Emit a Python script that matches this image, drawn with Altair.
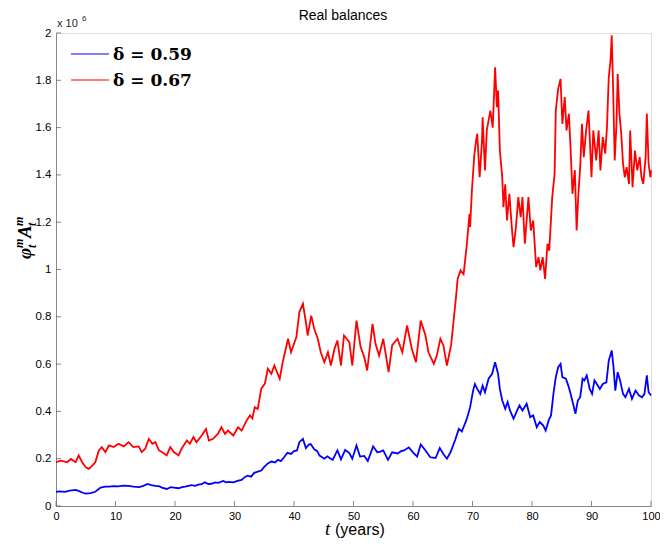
import altair as alt
import pandas as pd

# ---- data (values in units of 10^6) ----
t_blue = [0, 0.6, 1.5, 2.3, 3.3, 3.8, 4.5, 5.0, 5.8, 6.6, 7.5, 8.3, 8.9, 9.7, 10.5, 11.3, 12.2, 13.0, 13.9, 14.6,
          15.4, 16.0, 16.7, 17.4, 17.8, 18.6, 19.3, 19.8, 20.6, 21.2, 21.7, 22.8, 23.4, 23.9, 24.5, 25.0, 25.6, 26.1,
          26.8, 27.3, 28.1, 28.6, 29.0, 29.8, 30.5, 31.2, 31.7, 32.2, 32.8, 33.3, 33.9, 34.5, 35.0, 35.6, 36.2, 36.8,
          37.3, 37.8, 38.3, 38.9, 39.5, 40.0, 40.5, 40.9, 41.5, 42.0, 42.5, 42.8, 43.4, 43.9, 44.3, 45.1, 45.6, 46.0,
          46.5, 47.0, 47.3, 47.9, 48.6, 49.3, 49.8, 50.5, 51.1, 51.8, 52.4, 53.3, 54.0, 54.5, 55.0, 55.8, 56.5, 57.4,
          58.0, 58.5, 59.3, 60.1, 60.7, 61.3, 62.1, 62.9, 63.8, 64.5, 65.1, 65.7, 66.3, 67.1, 67.7, 68.2, 69.0, 69.6,
          70.1, 70.4, 70.8, 71.3, 71.7, 72.1, 72.7, 73.3, 73.8, 74.3, 74.6, 75.0, 75.5, 75.9, 76.3, 76.9, 77.5, 77.9,
          78.4, 79.1, 79.7, 80.2, 80.8, 81.3, 81.9, 82.3, 82.8, 83.2, 83.6, 84.0, 84.4, 84.8, 85.1, 85.7, 86.1, 86.5,
          86.9, 87.3, 87.7, 88.1, 88.5, 88.8, 89.2, 89.7, 90.1, 90.5, 90.9, 91.4, 91.9, 92.5, 92.9, 93.4, 93.7, 94.0,
          94.4, 94.8, 95.3, 95.7, 96.3, 96.8, 97.4, 98.0, 98.5, 98.9, 99.3, 99.6, 100]
v_blue = [0.06, 0.062, 0.06, 0.065, 0.068, 0.064, 0.056, 0.052, 0.054, 0.06, 0.078, 0.082, 0.082, 0.084, 0.083, 0.086,
          0.085, 0.082, 0.08, 0.084, 0.093, 0.088, 0.085, 0.083, 0.078, 0.072, 0.08, 0.078, 0.075, 0.08, 0.082, 0.088,
          0.085, 0.09, 0.092, 0.1, 0.093, 0.094, 0.1, 0.098, 0.106, 0.1, 0.102, 0.1, 0.106, 0.11, 0.122, 0.128, 0.124,
          0.14, 0.145, 0.15, 0.165, 0.18, 0.188, 0.184, 0.195, 0.19, 0.205, 0.225, 0.22, 0.232, 0.235, 0.27, 0.284,
          0.245, 0.26, 0.262, 0.24, 0.232, 0.213, 0.2, 0.21, 0.203, 0.195, 0.22, 0.235, 0.197, 0.237, 0.224, 0.2,
          0.256, 0.209, 0.212, 0.19, 0.252, 0.227, 0.23, 0.235, 0.195, 0.227, 0.222, 0.232, 0.235, 0.248, 0.224,
          0.209, 0.26, 0.235, 0.206, 0.203, 0.245, 0.22, 0.2, 0.227, 0.28, 0.326, 0.315, 0.365, 0.418, 0.488, 0.516,
          0.495, 0.474, 0.509, 0.481, 0.538, 0.559, 0.608, 0.559, 0.495, 0.446, 0.411, 0.44, 0.404, 0.369, 0.404,
          0.425, 0.404, 0.432, 0.376, 0.383, 0.333, 0.355, 0.34, 0.319, 0.362, 0.383, 0.474, 0.545, 0.587, 0.601,
          0.545, 0.538, 0.509, 0.474, 0.432, 0.39, 0.446, 0.46, 0.538, 0.531, 0.552, 0.495, 0.474, 0.531, 0.516,
          0.495, 0.516, 0.523, 0.615, 0.658, 0.587, 0.488, 0.566, 0.531, 0.474, 0.46, 0.495, 0.453, 0.488, 0.467,
          0.46, 0.474, 0.552, 0.481, 0.467]

t_red = [0, 0.8, 1.9, 2.5, 3.3, 3.8, 4.4, 5.0, 5.5, 6.1, 6.6, 7.2, 7.7, 8.3, 8.9, 9.7, 10.5, 11.4, 12.2, 13.0, 13.9,
         14.4, 15.0, 15.6, 16.2, 16.7, 17.3, 17.8, 18.6, 19.2, 19.8, 20.6, 21.1, 22.0, 22.5, 23.1, 23.6, 24.5, 25.2,
         25.7, 26.4, 27.2, 27.8, 28.4, 28.9, 29.8, 30.6, 31.2, 32.0, 32.6, 33.0, 33.4, 33.9, 34.5, 35.1, 35.6, 36.2,
         36.7, 37.6, 38.1, 39.0, 39.5, 40.4, 40.9, 41.5, 42.0, 42.3, 42.9, 43.4, 44.0, 44.5, 45.1, 45.7, 46.2, 46.8,
         47.3, 47.9, 48.4, 49.3, 49.8, 50.5, 51.2, 51.8, 52.3, 53.2, 53.7, 54.3, 55.0, 55.9, 56.5, 57.4, 58.2, 59.0,
         59.8, 60.5, 61.3, 62.1, 62.6, 63.5, 64.0, 64.6, 65.1, 65.7, 66.4, 66.8, 67.2, 67.5, 68.0, 68.5, 69.0, 69.5,
         69.6, 69.9, 70.3, 70.6, 70.8, 71.2, 71.6, 71.7, 72.1, 72.4, 73.0, 73.4, 73.8, 74.1, 74.3, 74.6, 75.0, 75.2,
         75.5, 75.8, 76.2, 76.6, 76.9, 77.3, 77.7, 78.1, 78.4, 78.8, 79.4, 79.8, 80.2, 80.7, 81.1, 81.4, 81.8, 82.2,
         82.6, 82.9, 83.4, 83.8, 84.0, 84.4, 84.8, 85.1, 85.5, 85.8, 86.2, 86.5, 86.8, 87.2, 87.5, 87.8, 88.1, 88.4,
         88.7, 89.1, 89.5, 90.0, 90.3, 90.8, 91.2, 91.5, 91.9, 92.3, 92.6, 92.9, 93.2, 93.4, 93.6, 93.9, 94.2, 94.4,
         94.7, 95.0, 95.3, 95.6, 95.9, 96.3, 96.5, 96.9, 97.3, 97.7, 98.1, 98.4, 98.7, 99.1, 99.3, 99.6, 99.9, 100]
v_red = [0.185, 0.192, 0.185, 0.199, 0.185, 0.214, 0.185, 0.164, 0.157, 0.171, 0.185, 0.235, 0.249, 0.228, 0.256,
         0.249, 0.263, 0.252, 0.27, 0.249, 0.252, 0.228, 0.242, 0.284, 0.263, 0.27, 0.235, 0.228, 0.214, 0.249, 0.228,
         0.214, 0.242, 0.277, 0.263, 0.291, 0.27, 0.298, 0.326, 0.277, 0.284, 0.305, 0.333, 0.305, 0.319, 0.298,
         0.333, 0.319, 0.36, 0.383, 0.37, 0.418, 0.41, 0.496, 0.517, 0.58, 0.559, 0.594, 0.538, 0.608, 0.707, 0.65,
         0.714, 0.82, 0.855, 0.777, 0.721, 0.805, 0.749, 0.707, 0.65, 0.608, 0.65, 0.594, 0.665, 0.7, 0.594, 0.721,
         0.693, 0.594, 0.784, 0.672, 0.63, 0.573, 0.77, 0.686, 0.636, 0.707, 0.566, 0.68, 0.707, 0.65, 0.763, 0.665,
         0.608, 0.784, 0.721, 0.65, 0.601, 0.636, 0.707, 0.68, 0.594, 0.68, 0.777, 0.876, 0.96, 0.996, 0.98, 1.094,
         1.235, 1.18, 1.334, 1.482, 1.545, 1.574, 1.39, 1.545, 1.644, 1.419, 1.588, 1.672, 1.6, 1.855, 1.686, 1.757,
         1.503, 1.39, 1.263, 1.36, 1.207, 1.32, 1.179, 1.094, 1.179, 1.306, 1.221, 1.306, 1.109, 1.306, 1.165, 1.207,
         1.01, 1.052, 0.996, 1.052, 0.96, 1.109, 1.08, 1.306, 1.405, 1.672, 1.764, 1.806, 1.616, 1.729, 1.588, 1.658,
         1.503, 1.32, 1.42, 1.165, 1.32, 1.433, 1.616, 1.475, 1.588, 1.672, 1.39, 1.588, 1.461, 1.588, 1.419, 1.56,
         1.49, 1.602, 1.813, 1.884, 1.99, 1.8, 1.461, 1.616, 1.827, 1.658, 1.574, 1.447, 1.39, 1.433, 1.362, 1.588,
         1.348, 1.503, 1.419, 1.475, 1.39, 1.362, 1.475, 1.658, 1.447, 1.39, 1.42]

series_labels = ["δ = 0.59", "δ = 0.67"]
series_colors = ["#0000ff", "#ff0000"]
x_ticks = [0, 10, 20, 30, 40, 50, 60, 70, 80, 90, 100]
y_ticks = [0, 0.2, 0.4, 0.6, 0.8, 1.0, 1.2, 1.4, 1.6, 1.8, 2.0]
title_text = "Real balances"
exp_text = ["x 10", "6"]

# ---- build tables ----
df = pd.concat([
    pd.DataFrame({"t": t_blue, "v": v_blue, "series": series_labels[0]}),
    pd.DataFrame({"t": t_red, "v": v_red, "series": series_labels[1]}),
], ignore_index=True)

W, H = 595, 473
AXIS_COL = "#555555"
LAB_COL = "#262626"
SANS = "Liberation Sans"
SERIF = "Liberation Serif"

xscale = alt.Scale(domain=[0, 100], nice=False, zero=False)
yscale = alt.Scale(domain=[0, 2], nice=False)

lines = alt.Chart(df).mark_line(strokeWidth=1.8).encode(
    x=alt.X("t:Q", scale=xscale,
            axis=alt.Axis(values=x_ticks, title=None, ticks=False, tickSize=0, grid=False,
                          labelPadding=4, labelFontSize=11, labelFlush=False)),
    y=alt.Y("v:Q", scale=yscale,
            axis=alt.Axis(values=y_ticks, title=None, ticks=False, tickSize=0, grid=False,
                          labelPadding=5, format="~g", labelFontSize=11.5, labelFlush=False)),
    color=alt.Color("series:N", scale=alt.Scale(domain=series_labels, range=series_colors), legend=None),
)

ytick = alt.Chart(pd.DataFrame({"v": y_ticks})).mark_tick(
    orient="horizontal", size=5, thickness=1, color=AXIS_COL
).encode(y=alt.Y("v:Q", scale=yscale), x=alt.value(2.5))

xtick = alt.Chart(pd.DataFrame({"t": x_ticks})).mark_tick(
    orient="vertical", size=5, thickness=1, color=AXIS_COL
).encode(x=alt.X("t:Q", scale=xscale), y=alt.value(H - 2.5))


def label(txt, x, y, size, font=SANS, color="black", align="left", baseline="alphabetic",
          angle=0, style="normal", weight="normal"):
    return alt.Chart(pd.DataFrame({"label": [txt]})).mark_text(
        font=font, fontSize=size, color=color, align=align, baseline=baseline,
        angle=angle, fontStyle=style, fontWeight=weight
    ).encode(x=alt.value(x), y=alt.value(y), text="label:N")


texts = [
    label(title_text, 287, -13, 14, align="center"),
    label(exp_text[0], 1, -6, 11, color=LAB_COL),
    label(exp_text[1], 26, -12, 8, color=LAB_COL),
    # x-axis title
    label("t", 269, 502, 19, font=SERIF, style="italic"),
    label("(years)", 279, 502, 16, font=SANS),
]

# y-axis title  phi_t^m A_t^m  (rotated, reads bottom-to-top)
yl_x, yl_y = -25, 226
SC = dict(font=SERIF, style="italic", weight="bold", angle=270)
texts += [
    label("φ", yl_x, yl_y, 19, **SC),
    label("m", yl_x - 8, yl_y - 11, 12, **SC),
    label("t", yl_x + 5, yl_y - 11, 12, **SC),
    label("A", yl_x, yl_y - 21, 19, **SC),
    label("m", yl_x - 8, yl_y - 33, 12, **SC),
    label("t", yl_x + 5, yl_y - 33, 12, **SC),
]

# legend
leg_y = [21, 47]
legend_layers = []
for lab, col, yy in zip(series_labels, series_colors, leg_y):
    legend_layers.append(
        alt.Chart(pd.DataFrame({"label": [lab]})).mark_rule(color=col, strokeWidth=1.2).encode(
            x=alt.value(15), x2=alt.value(53), y=alt.value(yy))
    )
    legend_layers.append(label(lab, 57, yy + 1, 17, font="DejaVu Serif", weight="bold",
                               baseline="middle"))

chart = alt.layer(lines, ytick, xtick, *texts, *legend_layers).properties(
    width=W, height=H,
    autosize=alt.AutoSizeParams(type="none"),
    padding={"left": 48, "top": 25, "right": 9, "bottom": 32},
).configure_view(stroke=None).configure_axis(
    domainColor=AXIS_COL, domainWidth=1, labelColor=LAB_COL, labelFont=SANS,
).configure(background="white")

chart.save("out.html", embed_options={"renderer": "svg", "actions": False})
